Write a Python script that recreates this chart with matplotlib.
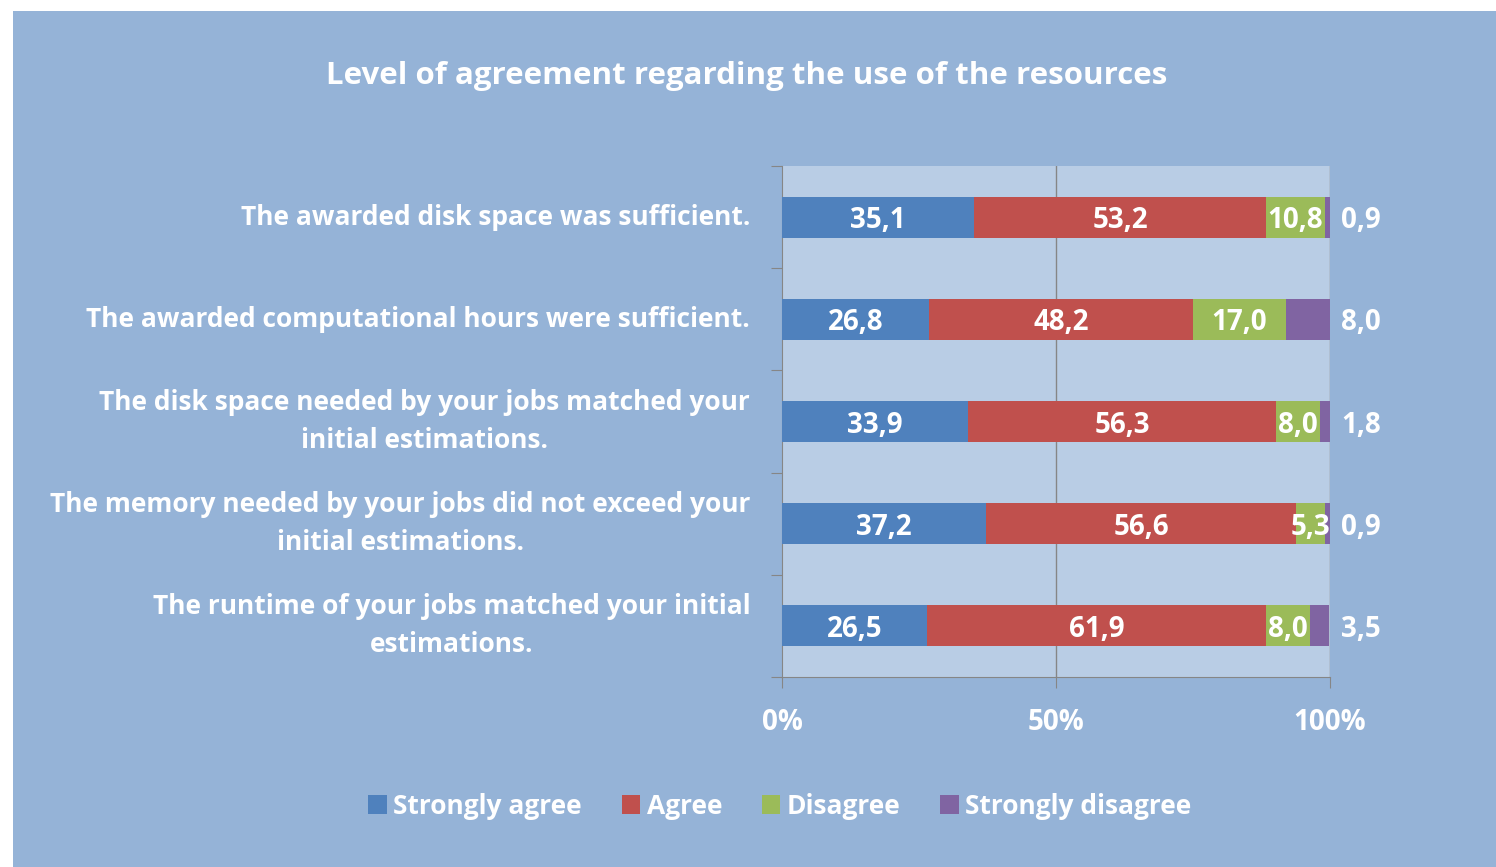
import numpy as np
import matplotlib.pyplot as plt
from matplotlib.patches import Rectangle

# ---------------- DATA ----------------
questions = [
    "The awarded disk space was sufficient.",
    "The awarded computational hours were sufficient.",
    "The disk space needed by your jobs matched your\ninitial estimations.",
    "The memory needed by your jobs did not exceed your\ninitial estimations.",
    "The runtime of your jobs matched your initial\nestimations.",
]
strongly_agree = [35.1, 26.8, 33.9, 37.2, 26.5]
agree = [53.2, 48.2, 56.3, 56.6, 61.9]
disagree = [10.8, 17.0, 8.0, 5.3, 8.0]
strongly_disagree = [0.9, 8.0, 1.8, 0.9, 3.5]
series_names = ["Strongly agree", "Agree", "Disagree", "Strongly disagree"]
x_ticks = [0, 50, 100]
x_ticklabels = ["0%", "50%", "100%"]

colors = ["#4F81BD", "#C0504D", "#9BBB59", "#8064A2"]
bg = "#95B3D7"
plot_bg = "#B9CDE5"
grid_c = "#868686"

plt.rcParams['font.family'] = ['Open Sans', 'DejaVu Sans']
plt.rcParams['font.weight'] = 'bold'
FS_VAL = 20   # data labels
FS_CAT = 19   # question labels
FS_TICK = 20
FS_LEG = 19

fig = plt.figure(figsize=(14.96, 8.67), dpi=100)
fig.patch.set_facecolor('white')
# chart area background (white border at left/top)
fig.patches.append(Rectangle((13 / 1496, 0), 1 - 13 / 1496, 1 - 11 / 867,
                             transform=fig.transFigure, facecolor=bg,
                             edgecolor='none', zorder=-10))

ax = fig.add_axes([782 / 1496, 1 - 677 / 867, 548 / 1496, 511 / 867])
ax.set_facecolor(plot_bg)

y = np.arange(len(questions))
series = [strongly_agree, agree, disagree, strongly_disagree]
left = np.zeros(len(questions))
for vals, col, name in zip(series, colors, series_names):
    vals = np.array(vals)
    ax.barh(y, vals, left=left, height=0.4, color=col, label=name, zorder=3)
    for yi, (l, v) in enumerate(zip(left, vals)):
        txt = f"{v:.1f}".replace('.', ',')
        if col == colors[3]:
            # last segment labelled outside the plot, right of 100%
            ax.text(102, yi, txt, ha='left', va='center_baseline', color='white',
                    fontsize=FS_VAL, fontweight='bold', zorder=4, clip_on=False)
        else:
            ax.text(l + v / 2, yi, txt, ha='center', va='center_baseline', color='white',
                    fontsize=FS_VAL, fontweight='bold', zorder=4)
    left += vals

ax.set_xlim(0, 100)
ax.set_ylim(len(questions) - 0.5, -0.5)

# gridlines
for gx in [50, 100]:
    ax.axvline(gx, color=grid_c, lw=1, zorder=1)

ax.set_xticks(x_ticks)
ax.set_xticklabels(x_ticklabels, color='white', fontsize=FS_TICK, fontweight='bold')
ax.tick_params(axis='x', length=8, color=grid_c, pad=14)

ax.set_yticks(np.arange(-0.5, len(questions) + 0.5, 1), minor=False)
ax.set_yticklabels([])
ax.tick_params(axis='y', length=8, color=grid_c, direction='out')
for yi, q in enumerate(questions):
    ax.text(-0.058, yi, q, transform=ax.get_yaxis_transform(), ha='right',
            va='center', color='white', fontsize=FS_CAT, fontweight='bold',
            linespacing=1.52, multialignment='center')

for s in ['top', 'right']:
    ax.spines[s].set_visible(False)
for s in ['left', 'bottom']:
    ax.spines[s].set_color(grid_c)

fig.text(747 / 1496, 1 - 76 / 867, "Level of agreement regarding the use of the resources",
         ha='center', va='center', color='white', fontsize=22.5, fontweight='bold')

leg = fig.legend(loc='center', bbox_to_anchor=(780 / 1496, 1 - 806 / 867),
                 ncol=4, frameon=False, fontsize=FS_LEG, handlelength=0.7,
                 handleheight=0.7, handletextpad=0.25, columnspacing=1.5)
for t in leg.get_texts():
    t.set_color('white')
    t.set_fontweight('bold')

fig.savefig('out.png', dpi=100, facecolor=fig.get_facecolor())
